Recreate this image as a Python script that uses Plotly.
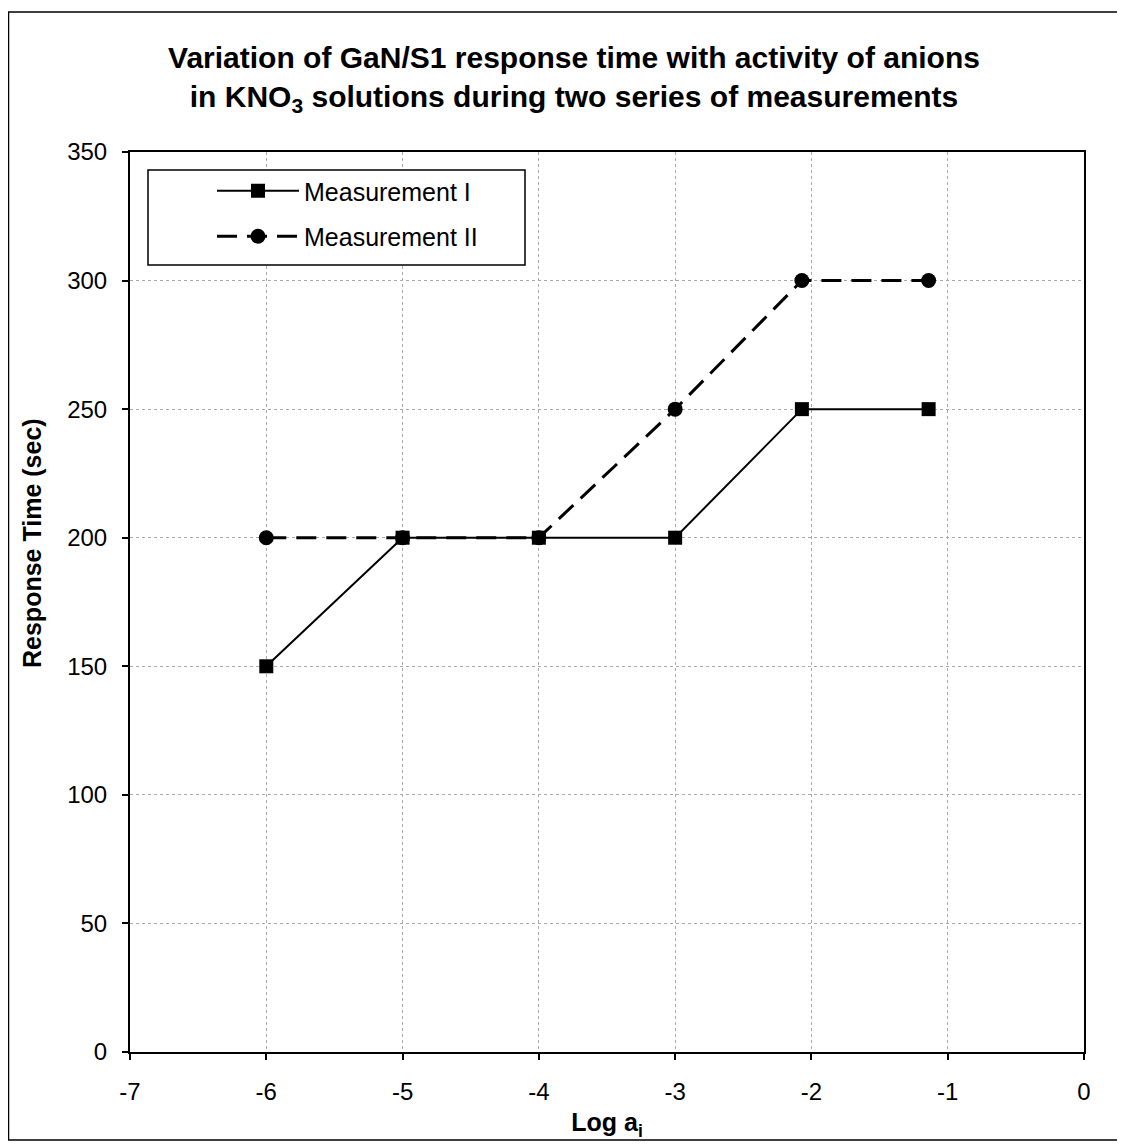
import plotly.graph_objects as go

# ---- data ----
log_a_I = [-6, -5, -4, -3, -2.07, -1.14]
time_I = [150, 200, 200, 200, 250, 250]
log_a_II = [-6, -5, -4, -3, -2.07, -1.14]
time_II = [200, 200, 200, 250, 300, 300]
x_ticks = [-7, -6, -5, -4, -3, -2, -1, 0]
x_tick_labels = ["-7", "-6", "-5", "-4", "-3", "-2", "-1", "0"]
y_ticks = [0, 50, 100, 150, 200, 250, 300, 350]

FONT = "Liberation Sans, Arial, sans-serif"

# page has an 8px body margin; work in page coordinates and convert
OFF = 8
W, H = 1125 - OFF, 1147 - OFF
PL, PR, PT, PB = 130, 1084, 152, 1052          # plot area, page px
L, T = PL - OFF, PT - OFF
R = W - (PR - OFF)
B = H - (PB - OFF)
pw, ph = W - L - R, H - T - B


def pp(x, y):
    """page pixel -> paper coords"""
    return (x - OFF - L) / pw, (H - B - (y - OFF)) / ph


fig = go.Figure()
fig.add_trace(go.Scatter(
    x=log_a_I, y=time_I, name="Measurement I", mode="lines+markers",
    legendgroup="a",
    line=dict(color="black", width=2),
    marker=dict(symbol="square", size=14, color="black"),
))
fig.add_trace(go.Scatter(
    x=log_a_II, y=time_II, name="Measurement II", mode="lines+markers",
    legendgroup="b",
    line=dict(color="black", width=3, dash="20px,10px"),
    marker=dict(symbol="circle", size=15, color="black"),
))

# outer frame
x0, y0 = pp(8.5, 1140)
x1, y1 = pp(1120, 12)
fig.add_shape(type="rect", xref="paper", yref="paper", x0=x0, y0=y0, x1=x1, y1=y1,
              line=dict(color="black", width=1.5), fillcolor="rgba(0,0,0,0)", layer="below")
# legend frame
lx0, ly0 = pp(148, 265)
lx1, ly1 = pp(525, 170)
fig.add_shape(type="rect", xref="paper", yref="paper", x0=lx0, y0=ly0, x1=lx1, y1=ly1,
              line=dict(color="black", width=1.5), fillcolor="white", layer="above")

leg_x, leg_y = pp(212, 168)
tx, ty = pp(574, 68)
yt_x, yt_y = pp(32, 543)

fig.add_annotation(
    text="<b>Response Time (sec)</b>", xref="paper", yref="paper",
    x=yt_x, y=yt_y, xanchor="center", yanchor="middle", textangle=-90,
    showarrow=False, font=dict(family=FONT, size=25, color="black"),
)

fig.update_layout(
    width=W, height=H,
    margin=dict(l=L, r=R, t=T, b=B),
    paper_bgcolor="white", plot_bgcolor="white",
    font=dict(family=FONT, size=24, color="black"),
    title=dict(
        text="<b>Variation of GaN/S1 response time with activity of anions<br>in KNO<sub>3</sub> solutions during two series of measurements</b>",
        x=tx, xref="paper", xanchor="center", y=1 - (68 - OFF) / H, yanchor="middle",
        font=dict(family=FONT, size=30, color="black"),
    ),
    showlegend=True,
    legend=dict(
        x=leg_x, y=leg_y, xanchor="left", yanchor="top",
        bgcolor="rgba(0,0,0,0)", borderwidth=0,
        font=dict(family=FONT, size=25, color="black"),
        itemwidth=82, tracegroupgap=10,
    ),
    xaxis=dict(
        range=[-7, 0], tickvals=x_ticks, ticktext=x_tick_labels,
        showline=True, linecolor="black", linewidth=2, mirror=True,
        ticks="outside", ticklen=6, tickwidth=1.5, tickcolor="black",
        ticklabelstandoff=11,
        showgrid=True, gridcolor="#aaaaaa", gridwidth=1, griddash="dot",
        zeroline=False,
        title=dict(text="<b>Log a<sub>i</sub></b>", font=dict(family=FONT, size=25), standoff=10),
        tickfont=dict(size=24),
    ),
    yaxis=dict(
        range=[0, 350], tickvals=y_ticks,
        showline=True, linecolor="black", linewidth=2, mirror=True,
        ticks="outside", ticklen=6, tickwidth=1.5, tickcolor="black",
        ticklabelstandoff=10,
        showgrid=True, gridcolor="#aaaaaa", gridwidth=1, griddash="dot",
        zeroline=False,
        tickfont=dict(size=24),
    ),
)

fig.write_html("out.html")
